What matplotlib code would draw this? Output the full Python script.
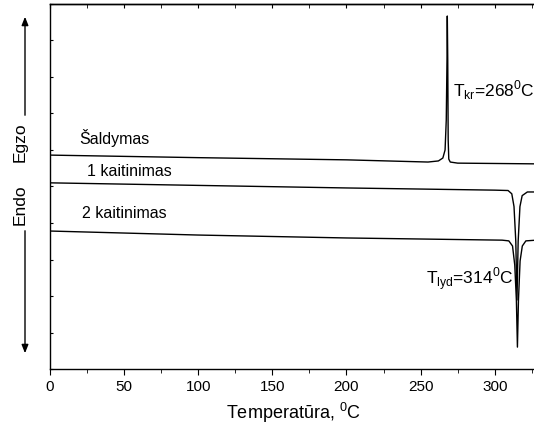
import matplotlib
matplotlib.use("Agg")
import matplotlib.pyplot as plt
from matplotlib.ticker import MultipleLocator

plt.rcParams['font.family'] = ['Liberation Sans', 'DejaVu Sans']
plt.rcParams['mathtext.fontset'] = 'custom'
plt.rcParams['mathtext.rm'] = 'Liberation Sans'

# DSC traces (temperature, °C ; heat flow, arbitrary units)
cool_t = [0, 100, 200, 255, 262, 265, 266.5, 267.3, 267.8, 268.0, 268.3, 268.6, 269.0, 270, 275, 328]
cool_q = [58.6, 57.9, 57.3, 56.7, 57.0, 57.8, 60.0, 68.2, 84.7, 96.7, 84.7, 62.7, 57.5, 56.7, 56.4, 56.2]

heat1_t = [0, 100, 200, 300, 309, 311.5, 313.0, 314.2, 315.0, 315.8, 317.0, 318.5, 322, 328]
heat1_q = [51.0, 50.3, 49.6, 49.0, 48.9, 48.0, 44.5, 35.0, 18.9, 35.0, 44.5, 47.5, 48.5, 48.5]

heat2_t = [0, 100, 200, 305, 309.5, 312, 313.5, 314.6, 315.3, 316.0, 317.1, 318.6, 321, 328]
heat2_q = [37.8, 36.7, 35.9, 35.3, 35.1, 33.7, 28.5, 18.9, 6.0, 18.9, 29.6, 33.7, 35.1, 35.3]

x_ticks = [0, 50, 100, 150, 200, 250, 300]

fig = plt.figure(figsize=(5.34, 4.32), dpi=100)
ax = fig.add_axes([0.0936, 0.1458, 0.912, 0.845])

for t, q in [(cool_t, cool_q), (heat1_t, heat1_q), (heat2_t, heat2_q)]:
    ax.plot(t, q, color='black', lw=1.0)

ax.set_xlim(0, 328.5)
ax.set_ylim(0, 100)
ax.set_xticks(x_ticks)
ax.xaxis.set_minor_locator(MultipleLocator(25))
ax.yaxis.set_major_locator(MultipleLocator(10))
ax.tick_params(axis='x', which='both', direction='out', labelsize=11, pad=4)
ax.tick_params(axis='x', which='major', length=4)
ax.tick_params(axis='x', which='minor', length=3)
ax.tick_params(axis='y', which='both', direction='in', left=True, labelleft=False, length=2.5)
# inward ticks along the top edge
sec = ax.secondary_xaxis('top')
sec.set_xticks(x_ticks)
sec.xaxis.set_minor_locator(MultipleLocator(25))
sec.tick_params(axis='x', which='both', direction='in', labeltop=False, length=3)
sec.spines['top'].set_linewidth(1.0)
ax.spines['right'].set_visible(False)
for s in ['left', 'bottom', 'top']:
    ax.spines[s].set_linewidth(1.0)

ax.set_xlabel('Temperatūra, $^{\\mathregular{0}}$C', fontsize=13, labelpad=5)

ax.text(19.6, 63.3, 'Šaldymas', fontsize=11.5, va='center', ha='left')
ax.text(25.0, 54.2, '1 kaitinimas', fontsize=11.5, va='center', ha='left')
ax.text(21.6, 42.5, '2 kaitinimas', fontsize=11.5, va='center', ha='left')
ax.text(272.0, 76.4, 'T$_{\\mathregular{kr}}$=268$^{\\mathregular{0}}$C', fontsize=12.5,
        va='center', ha='left')
ax.text(312.5, 24.5, 'T$_{\\mathregular{lyd}}$=314$^{\\mathregular{0}}$C', fontsize=12.5,
        va='center', ha='right')

# Exo / endo direction markers on the left
H = 432
fig.text(20 / 534, (H - 142) / H, 'Egzo', rotation=90, fontsize=12.5, ha='center', va='center')
fig.text(20 / 534, (H - 205) / H, 'Endo', rotation=90, fontsize=12.5, ha='center', va='center')
fig.add_artist(matplotlib.patches.FancyArrowPatch(
    (25 / 534, (H - 118) / H), (25 / 534, (H - 14) / H), transform=fig.transFigure,
    arrowstyle='-|>,head_length=5,head_width=2', lw=1.0, color='black', mutation_scale=1))
fig.add_artist(matplotlib.patches.FancyArrowPatch(
    (25 / 534, (H - 228) / H), (25 / 534, (H - 356) / H), transform=fig.transFigure,
    arrowstyle='-|>,head_length=5,head_width=2', lw=1.0, color='black', mutation_scale=1))

fig.savefig('out.png', dpi=100)
